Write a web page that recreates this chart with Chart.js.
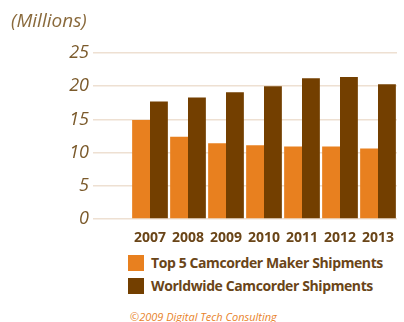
<!DOCTYPE html>
<html><head><meta charset="utf-8">
<script src="https://cdn.jsdelivr.net/npm/chart.js@4/dist/chart.umd.min.js"></script>
<style>
html,body{margin:0;padding:0;background:#fff;width:404px;height:322px;overflow:hidden;position:relative;font-family:"Open Sans",sans-serif}
#wrap{position:absolute;left:0;top:0;width:404px;height:250px}
#title{position:absolute;left:11px;top:7px;font-style:italic;font-size:19px;color:#8a6a3c;}
#legend{position:absolute;left:128px;top:251px;}
.item{display:flex;align-items:center;height:23px;font-weight:bold;font-size:14px;color:#6a4518;letter-spacing:-0.4px}
.sw{width:16px;height:16px;margin-right:7px}
#copy{position:absolute;left:130px;top:309px;font-style:italic;font-size:11px;color:#e8832a}
</style></head>
<body>
<div id="wrap"><canvas id="c" width="404" height="250"></canvas></div>
<div id="title">(Millions)</div>
<div id="legend"></div>
<div id="copy">©2009 Digital Tech Consulting</div>
<script>
const categories = ['2007','2008','2009','2010','2011','2012','2013'];
const top5Shipments = [14.9, 12.4, 11.4, 11.1, 10.9, 10.9, 10.6];
const worldwideShipments = [17.7, 18.3, 19.1, 20.0, 21.2, 21.4, 20.3];
const yTicks = [0, 5, 10, 15, 20, 25];
const seriesNames = ['Top 5 Camcorder Maker Shipments', 'Worldwide Camcorder Shipments'];
const seriesColors = ['#e8801f', '#733f00'];

const labels = [''].concat(categories);
const d1 = [null].concat(top5Shipments);
const d2 = [null].concat(worldwideShipments);

new Chart(document.getElementById('c'), {
  type: 'bar',
  data: {
    labels: labels,
    datasets: [
      {label: seriesNames[0], data: d1, backgroundColor: seriesColors[0], categoryPercentage: 0.94, barPercentage: 1.0},
      {label: seriesNames[1], data: d2, backgroundColor: seriesColors[1], categoryPercentage: 0.94, barPercentage: 1.0}
    ]
  },
  options: {
    responsive: false,
    animation: false,
    devicePixelRatio: 1,
    layout: {padding: {top: 53, right: 7, left: 0, bottom: 0}},
    plugins: {legend: {display: false}, tooltip: {enabled: false}},
    scales: {
      x: {
        grid: {display: false},
        border: {display: false},
        ticks: {color: '#6a4518', font: {family: 'Open Sans', weight: 'bold', size: 14}, padding: 3, autoSkip: false, maxRotation: 0},
        afterFit: s => { s.height = 31; }
      },
      y: {
        min: 0, max: 25,
        afterBuildTicks: s => { s.ticks = yTicks.map(v => ({value: v})); },
        grid: {color: '#eee0d2', lineWidth: 1.5, drawTicks: false},
        border: {display: false},
        ticks: {color: '#7b5a2b', font: {family: 'Open Sans', style: 'italic', size: 18}, padding: 4},
        afterFit: s => { s.width = 93; }
      }
    }
  }
});

const lg = document.getElementById('legend');
seriesNames.forEach((n, i) => {
  const it = document.createElement('div'); it.className = 'item';
  const sw = document.createElement('div'); sw.className = 'sw'; sw.style.background = seriesColors[i];
  const tx = document.createElement('span'); tx.textContent = n;
  it.appendChild(sw); it.appendChild(tx); lg.appendChild(it);
});
</script>
</body></html>
